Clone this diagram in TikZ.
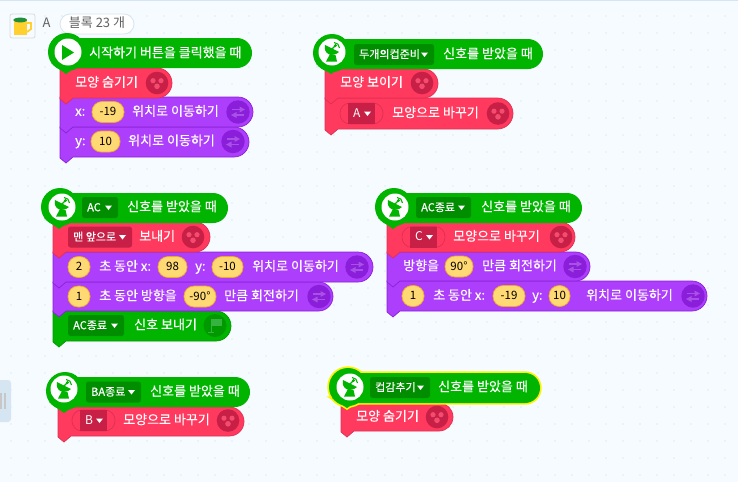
\documentclass[tikz,border=0pt]{standalone}
\usepackage{fontspec}
\setmainfont{Noto Sans CJK KR}
\definecolor{PageBg}{HTML}{F6FBFF}
\definecolor{PageDot}{HTML}{DCEBF6}
\definecolor{PanelBlue}{HTML}{D5E5F1}
\definecolor{HatGreen}{HTML}{00B400}
\definecolor{HatDark}{HTML}{008E00}
\definecolor{HatIcon}{HTML}{009A00}
\definecolor{FlagGreen}{HTML}{35B23F}
\definecolor{LooksRed}{HTML}{FF3A5E}
\definecolor{LooksEdge}{HTML}{DE3053}
\definecolor{LooksDark}{HTML}{C71F45}
\definecolor{LooksDot}{HTML}{F34C6E}
\definecolor{MoveViolet}{HTML}{AD3EFB}
\definecolor{MoveEdge}{HTML}{8A22D8}
\definecolor{MoveDark}{HTML}{8A1EDB}
\definecolor{MoveArrow}{HTML}{A950E6}
\definecolor{NumYellow}{HTML}{FFD974}
\definecolor{NumEdge}{HTML}{F5A623}
\definecolor{CupYellow}{HTML}{FFD02E}
\definecolor{CupGreen}{HTML}{1F8F3A}
\begin{document}
\begin{tikzpicture}[x=1pt, y=-1pt,
    blocktext/.style={anchor=west, inner sep=0pt, text=white, font=\fontsize{13}{13}\selectfont\addfontfeature{FakeBold=0.3}, text height=9.5pt, text depth=2pt},
    droptext/.style={blocktext, font=\fontsize{11}{11}\selectfont\addfontfeature{FakeBold=0.25}},
    numtext/.style={inner sep=0pt, text=black, font=\fontsize{11.5}{11.5}\selectfont, text height=8.5pt, text depth=1.5pt},
    headtext/.style={inner sep=0pt, text=black!62, font=\fontsize{13}{13}\selectfont, text height=9.5pt, text depth=2pt},
    looksblock/.style={fill=LooksRed, draw=LooksEdge, line width=0.7pt},
    moveblock/.style={fill=MoveViolet, draw=MoveEdge, line width=0.7pt},
    flowblock/.style={fill=HatGreen, draw=HatIcon, line width=0.7pt},
    hatfill/.style={fill=HatGreen},
    hatglow/.style={fill=yellow, draw=yellow, line width=3.4pt},
]

% _____ Page
\fill[PageBg] (0,0) rectangle (738,482);
\useasboundingbox (0,0) rectangle (738,482);
\foreach \DotY in {16,33,...,482}
    \foreach \DotX in {11,28,...,738}
        \fill[PageDot] (\DotX,\DotY) circle [radius=0.8pt];
\fill[PanelBlue] (0,0) rectangle (738,1.2);

% _____ Side handle
\fill[PanelBlue, rounded corners=3pt] (-6,380) rectangle (11,422);
\fill[black!22] (0,393) rectangle (2,409);
\fill[black!22] (4,393) rectangle (6,409);

% _____ Block shapes
\def\StackBlock#1#2#3#4#5{
    \draw[#1] (#2,#3) -- (#5-#4/2+#3/2,#3)
        arc [start angle=90, end angle=-90, radius={(#4-#3)/2*1pt}]
        -- (#2+13,#4) -- (#2+6,#4+6) -- (#2,#4+1) -- cycle;
}
\def\HatShape#1#2#3#4#5#6{
    \path[#1] (#2+6,#3) -- (#5-15,#3)
        arc [start angle=90, end angle=-90, radius=15pt]
        -- (#2+6,#3+30) -- cycle;
    \path[#1] (#2+6+#6,#3+14) circle [radius=19pt];
    \path[#1] (#2-9,#3+25) -- (#2+6,#3+#4) -- (#2+21,#3+25) -- cycle;
}
\def\HatDisc#1#2{
    \fill[white] (#1,#2) circle [radius=13.5pt];
}

% _____ Block contents
\def\BlockText#1#2#3#4{
    \node[blocktext] (#1) at (#2,#3) {#4};
}
\def\NumField#1#2#3#4#5{
    \fill[NumYellow, draw=NumEdge, line width=0.7pt, rounded corners=10pt] (#2,#4-10.5) rectangle (#3,#4+10.5);
    \node[numtext] (#1) at (#2/2+#3/2,#4) {#5};
}
\def\DropField#1#2#3#4#5#6{
    \fill[#2, rounded corners=2.5pt] (#3,#5-10.5) rectangle (#4,#5+10.5);
    \node[droptext] (#1) at (#3+5,#5) {#6};
    \fill[white] (#4-13,#5-2) -- (#4-6,#5-2) -- (#4-9.5,#5+2.5) -- cycle;
}
\def\ShapeField#1#2#3#4{
    \draw[LooksEdge, line width=0.7pt, rounded corners=10pt] (#2,#3-10.5) rectangle (#2+43,#3+10.5);
    \fill[LooksDark] (#2+8,#3-10.5) rectangle (#2+35,#3+10.5);
    \node[droptext, font=\fontsize{12}{12}\selectfont] (#1) at (#2+13,#3) {#4};
    \fill[white] (#2+24,#3-2) -- (#2+31,#3-2) -- (#2+27.5,#3+2.5) -- cycle;
}

% _____ Icons
\def\LooksIcon#1#2{
    \fill[LooksDark] (#1,#2) circle [radius=11.3pt];
    \fill[LooksDot] (#1-4,#2-2.3) circle [radius=2.6pt];
    \fill[LooksDot] (#1+4,#2-2.3) circle [radius=2.6pt];
    \fill[LooksDot] (#1,#2+3.3) circle [radius=2.8pt];
}
\def\MoveIcon#1#2{
    \fill[MoveDark] (#1,#2) circle [radius=11.7pt];
    \draw[MoveArrow, line width=1.5pt] (#1-6,#2-2.5) -- (#1+2,#2-2.5);
    \fill[MoveArrow] (#1+1.5,#2-5.5) -- (#1+7,#2-2.5) -- (#1+1.5,#2+0.5) -- cycle;
    \draw[MoveArrow, line width=1.5pt] (#1+6,#2+3) -- (#1-2,#2+3);
    \fill[MoveArrow] (#1-1.5,#2) -- (#1-7,#2+3) -- (#1-1.5,#2+6) -- cycle;
}
\def\FlagIcon#1#2{
    \fill[HatIcon] (#1,#2) circle [radius=11.5pt];
    \fill[FlagGreen] (#1-3,#2-7) -- (#1+7,#2-7) -- (#1+7,#2) -- (#1-3,#2) -- cycle;
    \draw[FlagGreen, line width=1pt] (#1-4,#2-7) -- (#1-4,#2+7);
    \draw[FlagGreen, line width=1pt] (#1-7,#2+7) -- (#1-1,#2+7);
}
\def\SignalIcon#1#2{
    \fill[HatGreen] (#1-7,#2-7) .. controls (#1-9,#2+2) and (#1,#2+6) .. (#1+7,#2) -- cycle;
    \draw[HatGreen, line width=1.1pt] (#1-1,#2-2) -- (#1+3,#2-6);
    \fill[HatGreen] (#1+3.5,#2-6.5) circle [radius=1.7pt];
    \draw[HatGreen, line width=1.1pt] (#1+2,#2-9.5) .. controls (#1+5,#2-9.5) and (#1+7.5,#2-7) .. (#1+7.5,#2-4);
    \fill[HatGreen] (#1-6,#2+9.5) -- (#1+5,#2+9.5) -- (#1+3.5,#2+3) -- (#1-2,#2+2) -- cycle;
}

% _____ Header
\fill[PageBg, draw=black!14, line width=0.8pt, rounded corners=2pt] (10,14) rectangle (35,38);
\fill[CupYellow] (13.5,20) -- (27,20) -- (27,35) -- (13.5,35) -- cycle;
\draw[CupYellow, line width=1.8pt] (27,23) -- (31,23) -- (31,29) -- (27,32);
\fill[CupGreen] (20.2,20) ellipse [x radius=6.8pt, y radius=2.4pt];
\node[headtext] (sprite) at (46.5,24) {A};
\fill[white, draw=PanelBlue, line width=0.8pt, rounded corners=10pt] (60,14) rectangle (134,34);
\node[headtext] (count) at (97,24) {블록 23 개};

% _____ Start stack
\StackBlock{moveblock}{60}{127}{157}{249}
\StackBlock{moveblock}{60}{97}{127}{253}
\StackBlock{looksblock}{60}{68}{98}{172}
\HatShape{hatfill}{60}{38}{36}{252}{1}
\HatDisc{68}{52}
\fill[HatGreen] (62,45) -- (74,52.5) -- (62,60) -- cycle;
\BlockText{startlabel}{89}{53.5}{시작하기 버튼을 클릭했을 때}
\BlockText{hidelabel}{75}{83}{모양 숨기기}
\LooksIcon{157}{83}
\BlockText{xlabel}{75}{112}{x:}
\NumField{xvalue}{92}{124}{112}{-19}
\BlockText{xmove}{132}{112}{위치로 이동하기}
\MoveIcon{238}{112}
\BlockText{ylabel}{75}{141.5}{y:}
\NumField{yvalue}{91}{120}{141.5}{10}
\BlockText{ymove}{128}{141.5}{위치로 이동하기}
\MoveIcon{233}{141.5}

% _____ Cup stack
\StackBlock{looksblock}{325}{98}{129}{513}
\StackBlock{looksblock}{325}{69}{98}{438}
\HatShape{hatfill}{325}{39}{35}{543}{1}
\HatDisc{332}{52}
\SignalIcon{332}{52}
\DropField{cupdrop}{HatDark}{354}{434}{54.5}{두개의컵준비}
\BlockText{cuplabel}{443}{54.5}{신호를 받았을 때}
\BlockText{showlabel}{340}{83}{모양 보이기}
\LooksIcon{422}{83}
\ShapeField{shapeA}{340}{113.5}{A}
\BlockText{shapeAlabel}{392}{113.5}{모양으로 바꾸기}
\LooksIcon{498}{113.5}

% _____ AC stack
\StackBlock{flowblock}{53}{311}{341}{231}
\StackBlock{moveblock}{53}{282}{311}{333}
\StackBlock{moveblock}{53}{252}{282}{373}
\StackBlock{looksblock}{53}{222}{252}{210}
\HatShape{hatfill}{53}{193}{36}{228}{1}
\HatDisc{62}{207}
\SignalIcon{62}{207}
\DropField{acdrop}{HatDark}{82}{118}{207.5}{AC}
\BlockText{aclabel}{127}{207.5}{신호를 받았을 때}
\DropField{frontdrop}{LooksDark}{68}{132}{237}{맨 앞으로}
\BlockText{frontlabel}{139}{237}{보내기}
\LooksIcon{193}{237}
\NumField{glidetime}{68}{90}{267}{2}
\BlockText{glidelabel}{99}{267}{초 동안 x:}
\NumField{glidex}{158}{187}{267}{98}
\BlockText{glideylabel}{195}{267}{y:}
\NumField{glidey}{212}{243}{267}{-10}
\BlockText{glidemove}{252}{267}{위치로 이동하기}
\MoveIcon{357}{267}
\NumField{turntime}{68}{90}{296.5}{1}
\BlockText{turnlabel}{99}{296.5}{초 동안 방향을}
\NumField{turnangle}{184}{216}{296.5}{-90°}
\BlockText{turnmove}{224}{296.5}{만큼 회전하기}
\MoveIcon{319}{296.5}
\DropField{acenddrop}{HatDark}{68}{124}{325.5}{AC종료}
\BlockText{acendlabel}{134}{325.5}{신호 보내기}
\FlagIcon{215}{325.5}

% _____ AC end stack
\StackBlock{moveblock}{387}{281}{311}{707}
\StackBlock{moveblock}{387}{252}{281}{590}
\StackBlock{looksblock}{387}{222}{252}{575}
\HatShape{hatfill}{387}{193}{36}{582}{1}
\HatDisc{395}{207}
\SignalIcon{395}{207}
\DropField{acenddropb}{HatDark}{416}{471}{207.5}{AC종료}
\BlockText{acendhat}{481}{207.5}{신호를 받았을 때}
\ShapeField{shapeC}{402}{237}{C}
\BlockText{shapeClabel}{453}{237}{모양으로 바꾸기}
\LooksIcon{561}{237}
\BlockText{headlabel}{403}{266.5}{방향을}
\NumField{headangle}{445}{473}{266.5}{90°}
\BlockText{headmove}{482}{266.5}{만큼 회전하기}
\MoveIcon{575}{266.5}
\NumField{backtime}{402}{424}{296}{1}
\BlockText{backlabel}{433}{296}{초 동안 x:}
\NumField{backx}{493}{525}{296}{-19}
\BlockText{backylabel}{532}{296}{y:}
\NumField{backy}{549}{570}{296}{10}
\BlockText{backmove}{586}{296}{위치로 이동하기}
\MoveIcon{693}{296}

% _____ BA end stack
\StackBlock{looksblock}{58}{407}{436}{244}
\HatShape{hatfill}{58}{377}{36}{250}{1}
\HatDisc{64}{389}
\SignalIcon{64}{389}
\DropField{bafdrop}{HatDark}{86}{141}{392}{BA종료}
\BlockText{balabel}{150}{392}{신호를 받았을 때}
\ShapeField{shapeB}{72}{420.5}{B}
\BlockText{shapeBlabel}{123}{420.5}{모양으로 바꾸기}
\LooksIcon{228}{420.5}

% _____ Hide cup stack
\StackBlock{looksblock}{341}{403}{431}{453}
\HatShape{hatglow}{341}{373}{35}{540}{1}
\HatShape{hatfill}{341}{373}{35}{540}{1}
\HatDisc{350}{387}
\SignalIcon{350}{387}
\DropField{hidedrop}{HatDark}{370}{430}{387.5}{컵감추기}
\BlockText{hidehat}{438}{387.5}{신호를 받았을 때}
\BlockText{hidecup}{356}{417}{모양 숨기기}
\LooksIcon{437}{417}

\end{tikzpicture}
\end{document}
